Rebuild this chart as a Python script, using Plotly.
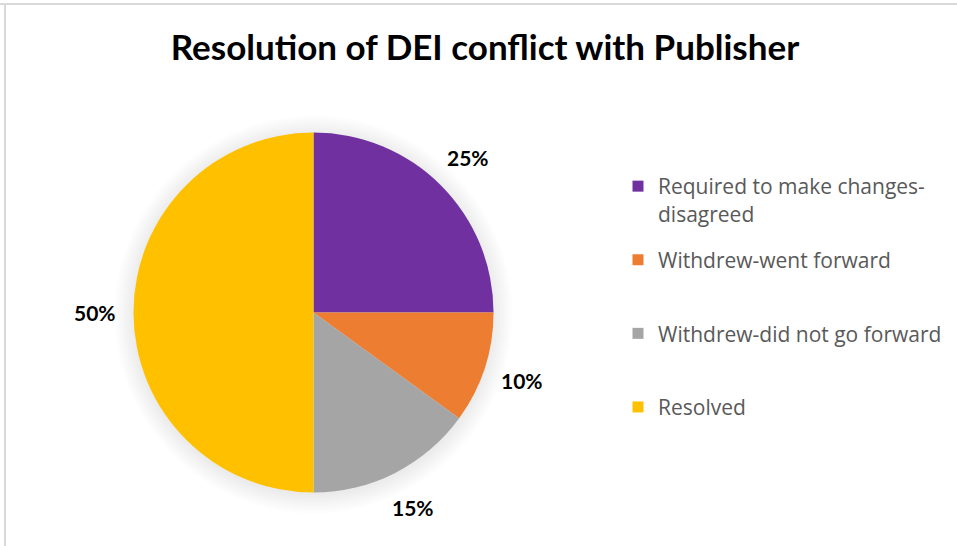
import math
import plotly.graph_objects as go

# Data
categories = [
    "Required to make changes-disagreed",
    "Withdrew-went forward",
    "Withdrew-did not go forward",
    "Resolved",
]
legend_labels = [
    "Required to make changes-<br>disagreed",
    "Withdrew-went forward",
    "Withdrew-did not go forward",
    "Resolved",
]
shares = [25, 10, 15, 50]
colors = ["#7030A0", "#ED7D31", "#A5A5A5", "#FFC000"]
title_text = "Resolution of DEI conflict with Publisher"

# Canvas and pie geometry (pixels)
W, H = 957, 546
CX, CY, R = 313.5, 312.5, 180.0
LABEL_R = 219.0

fig = go.Figure()

fig.add_trace(go.Pie(
    labels=categories,
    values=shares,
    marker=dict(colors=colors, line=dict(width=0)),
    sort=False,
    direction="clockwise",
    rotation=0,
    textinfo="none",
    showlegend=False,
    domain=dict(x=[(CX - R) / W, (CX + R) / W], y=[(H - CY - R) / H, (H - CY + R) / H]),
))

# Legend entries (square swatches), each in its own group for even spacing
for lab, col in zip(legend_labels, colors):
    text = lab if "<br>" in lab else lab + "<br> "
    fig.add_trace(go.Scatter(
        x=[None], y=[None], mode="markers", name=text,
        marker=dict(symbol="square", size=11, color=col),
        legendgroup=lab, showlegend=True,
    ))

# Percentage labels around the pie, placed at each slice's mid-angle
total = sum(shares)
annotations = []
cum = 0.0
for v in shares:
    mid = (cum + v / 2) / total * 2 * math.pi
    cum += v
    px = CX + LABEL_R * math.sin(mid)
    py = CY - LABEL_R * math.cos(mid)
    annotations.append(dict(
        x=px / W, y=1 - py / H, xref="paper", yref="paper",
        text=f"{round(v / total * 100)}%", showarrow=False,
        font=dict(family="Lato", size=21, color="#000000", weight="bold"),
        xanchor="center", yanchor="middle",
    ))

# Soft shadow halo around the pie
shapes = []
for i in range(10):
    rr = R + 1 + i * 2.0
    shapes.append(dict(
        type="circle", xref="paper", yref="paper", layer="below",
        x0=(CX - rr) / W, x1=(CX + rr) / W,
        y0=1 - (CY + 2 + rr) / H, y1=1 - (CY + 2 - rr) / H,
        fillcolor="rgba(0,0,0,0.008)", line=dict(width=0),
    ))

# Frame lines along the top and left edges
shapes.append(dict(type="line", xref="paper", yref="paper",
                   x0=0, x1=1, y0=1 - 4 / H, y1=1 - 4 / H,
                   line=dict(color="#D9D9D9", width=2)))
shapes.append(dict(type="line", xref="paper", yref="paper",
                   x0=5 / W, x1=5 / W, y0=0, y1=1 - 4 / H,
                   line=dict(color="#D9D9D9", width=2)))

fig.update_layout(
    width=W, height=H,
    margin=dict(l=0, r=0, t=0, b=0),
    paper_bgcolor="white", plot_bgcolor="white",
    title=dict(
        text=title_text, x=485 / W, xanchor="center", y=1 - 48 / H, yanchor="middle",
        xref="paper", yref="paper",
        font=dict(family="Lato", size=35, color="#000000", weight="bold"),
    ),
    xaxis=dict(visible=False), yaxis=dict(visible=False),
    legend=dict(
        x=618 / W, xanchor="left", y=1 - 166 / H, yanchor="top",
        font=dict(family="Open Sans", size=21, color="#595959"),
        valign="top", tracegroupgap=16, bgcolor="rgba(0,0,0,0)",
        traceorder="grouped",
    ),
    annotations=annotations,
    shapes=shapes,
)

fig.write_html("out.html")
